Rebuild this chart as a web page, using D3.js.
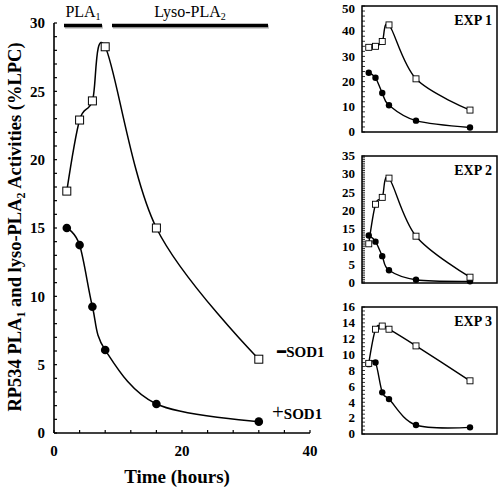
<!DOCTYPE html>
<html><head><meta charset="utf-8">
<script src="https://cdn.jsdelivr.net/npm/d3@7"></script>
<style>
body{margin:0;background:#fff;}
svg{display:block;font-family:"Liberation Serif","Times New Roman",serif;}
</style></head>
<body><svg id="c" width="500" height="487"></svg>
<script>
const hours = [2, 4, 6, 8, 16, 32];
const mainMinus = [17.7, 22.9, 24.3, 28.26, 15.0, 5.4];
const mainPlus = [15.0, 13.75, 9.24, 6.07, 2.12, 0.83];
const exp1Minus = [33.6, 34.0, 35.9, 42.5, 21.1, 8.7];
const exp1Plus = [23.5, 21.5, 15.5, 10.6, 4.5, 1.8];
const exp2Minus = [10.8, 21.7, 23.6, 28.9, 12.9, 1.6];
const exp2Plus = [13.1, 11.4, 7.4, 3.5, 0.9, 0.45];
const exp3Minus = [8.9, 13.2, 13.6, 13.2, 11.1, 6.7];
const exp3Plus = [8.8, 9.0, 5.25, 4.4, 1.13, 0.84];
const mainYTicks = [0, 5, 10, 15, 20, 25, 30];
const mainXTicks = [0, 20, 40];
const panelNames = ["EXP 1", "EXP 2", "EXP 3"];
const panelMax = [50, 35, 16];
const panelStep = [10, 5, 2];
const panelMinor = [2, 0.5, 0.5];

const svg = d3.select("#c");

// ---------- main chart ----------
const x = d3.scaleLinear().domain([0, 40]).range([54, 310]);
const y = d3.scaleLinear().domain([0, 30]).range([433, 23]);

const line = d3.line().x((d, i) => x(hours[i])).y(d => y(d)).curve(d3.curveCardinal.tension(0));

svg.append("line").attr("x1", x(0)).attr("x2", x(0)).attr("y1", y(0)).attr("y2", y(30))
  .attr("stroke", "#000").attr("stroke-width", 1.6);
svg.append("line").attr("x1", x(0)).attr("x2", x(40)).attr("y1", y(0)).attr("y2", y(0))
  .attr("stroke", "#000").attr("stroke-width", 1.6);

d3.range(0, 31, 1).forEach(v => {
  svg.append("line").attr("x1", x(0)).attr("x2", x(0) + 3).attr("y1", y(v)).attr("y2", y(v))
    .attr("stroke", "#000").attr("stroke-width", 1.2);
});
d3.range(0, 41, 4).forEach(v => {
  svg.append("line").attr("x1", x(v)).attr("x2", x(v)).attr("y1", y(0)).attr("y2", y(0) - 3)
    .attr("stroke", "#000").attr("stroke-width", 1.2);
});

svg.selectAll(".ytl").data(mainYTicks).join("text")
  .attr("x", 45).attr("y", d => y(d)).attr("dy", "0.35em").attr("text-anchor", "end")
  .attr("font-size", 15).attr("font-weight", "bold").text(d => d);
svg.selectAll(".xtl").data(mainXTicks).join("text")
  .attr("x", d => x(d)).attr("y", 456).attr("text-anchor", "middle")
  .attr("font-size", 15).attr("font-weight", "bold").text(d => d);

svg.append("text").attr("x", 177).attr("y", 483).attr("text-anchor", "middle")
  .attr("font-size", 19).attr("font-weight", "bold").text("Time (hours)");

const yl = svg.append("text").attr("transform", "translate(21,227) rotate(-90)")
  .attr("text-anchor", "middle").attr("font-size", 18.5).attr("font-weight", "bold");
yl.append("tspan").text("RP534 PLA");
yl.append("tspan").attr("font-size", 12).attr("dy", 4).text("1");
yl.append("tspan").attr("dy", -4).text(" and lyso-PLA");
yl.append("tspan").attr("font-size", 12).attr("dy", 4).text("2");
yl.append("tspan").attr("dy", -4).text(" Activities (%LPC)");

const bars = [[64, 102], [112, 268]];
bars.forEach(b => {
  svg.append("line").attr("x1", b[0] + 1).attr("x2", b[1] + 1).attr("y1", 27).attr("y2", 27)
    .attr("stroke", "#999").attr("stroke-width", 3.5).attr("opacity", 0.6);
  svg.append("line").attr("x1", b[0]).attr("x2", b[1]).attr("y1", 25.5).attr("y2", 25.5)
    .attr("stroke", "#000").attr("stroke-width", 3.5);
});
const t1 = svg.append("text").attr("x", 83).attr("y", 17).attr("text-anchor", "middle").attr("font-size", 16);
t1.append("tspan").text("PLA");
t1.append("tspan").attr("font-size", 10).attr("dy", 3).text("1");
const t2 = svg.append("text").attr("x", 190).attr("y", 17).attr("text-anchor", "middle").attr("font-size", 16);
t2.append("tspan").text("Lyso-PLA");
t2.append("tspan").attr("font-size", 10).attr("dy", 3).text("2");

svg.append("path").attr("d", line(mainMinus)).attr("fill", "none").attr("stroke", "#000").attr("stroke-width", 1.5);
svg.append("path").attr("d", line(mainPlus)).attr("fill", "none").attr("stroke", "#000").attr("stroke-width", 1.5);
svg.selectAll(".mc").data(mainPlus).join("circle")
  .attr("cx", (d, i) => x(hours[i])).attr("cy", d => y(d)).attr("r", 4.3).attr("fill", "#000");
svg.selectAll(".ms").data(mainMinus).join("rect")
  .attr("x", (d, i) => x(hours[i]) - 4).attr("y", d => y(d) - 4).attr("width", 8).attr("height", 8)
  .attr("fill", "#fff").attr("stroke", "#000").attr("stroke-width", 1);

const s1 = svg.append("text").attr("x", 277).attr("y", 357).attr("font-size", 15).attr("font-weight", "bold");
s1.append("tspan").attr("stroke", "#000").attr("stroke-width", 1.8).attr("font-size", 16).text("−");
s1.append("tspan").text("SOD1");
const s2 = svg.append("text").attr("x", 272).attr("y", 419).attr("font-size", 15).attr("font-weight", "bold");
s2.append("tspan").attr("font-size", 21).attr("font-weight", "normal").text("+");
s2.append("tspan").text("SOD1");

// ---------- small panels ----------
const panels = [
  {top: 6, bottom: 132, minus: exp1Minus, plus: exp1Plus},
  {top: 156, bottom: 283, minus: exp2Minus, plus: exp2Plus},
  {top: 307, bottom: 434, minus: exp3Minus, plus: exp3Plus}
];
panels.forEach((p, k) => {
  const g = svg.append("g");
  const px = d3.scaleLinear().domain([0, 40]).range([362, 497]);
  const py = d3.scaleLinear().domain([0, panelMax[k]]).range([p.bottom, p.top]);
  g.append("rect").attr("x", 362).attr("y", p.top).attr("width", 135).attr("height", p.bottom - p.top)
    .attr("fill", "none").attr("stroke", "#000").attr("stroke-width", 1.5);
  d3.range(0, panelMax[k] + 1e-9, panelMinor[k]).forEach(v => {
    g.append("line").attr("x1", 362).attr("x2", 365).attr("y1", py(v)).attr("y2", py(v))
      .attr("stroke", "#000").attr("stroke-width", 0.8);
  });
  const majors = d3.range(0, panelMax[k] + 1e-9, panelStep[k]);
  g.selectAll(".pt").data(majors).join("text")
    .attr("x", 355).attr("y", d => Math.max(py(d), 9)).attr("dy", "0.33em").attr("text-anchor", "end")
    .attr("font-size", 13).attr("font-weight", "bold").text(d => d);
  g.append("text").attr("x", 492).attr("y", p.top + 19).attr("text-anchor", "end")
    .attr("font-size", 14).attr("font-weight", "bold").text(panelNames[k]);
  const pl = d3.line().x((d, i) => px(hours[i])).y(d => py(d)).curve(d3.curveCardinal.tension(0));
  g.append("path").attr("d", pl(p.minus)).attr("fill", "none").attr("stroke", "#000").attr("stroke-width", 1.4);
  g.append("path").attr("d", pl(p.plus)).attr("fill", "none").attr("stroke", "#000").attr("stroke-width", 1.4);
  g.selectAll(".pc").data(p.plus).join("circle")
    .attr("cx", (d, i) => px(hours[i])).attr("cy", d => py(d)).attr("r", 3.2).attr("fill", "#000");
  g.selectAll(".ps").data(p.minus).join("rect")
    .attr("x", (d, i) => px(hours[i]) - 3).attr("y", d => py(d) - 3).attr("width", 6).attr("height", 6)
    .attr("fill", "#fff").attr("stroke", "#000").attr("stroke-width", 0.9);
});
</script></body></html>
